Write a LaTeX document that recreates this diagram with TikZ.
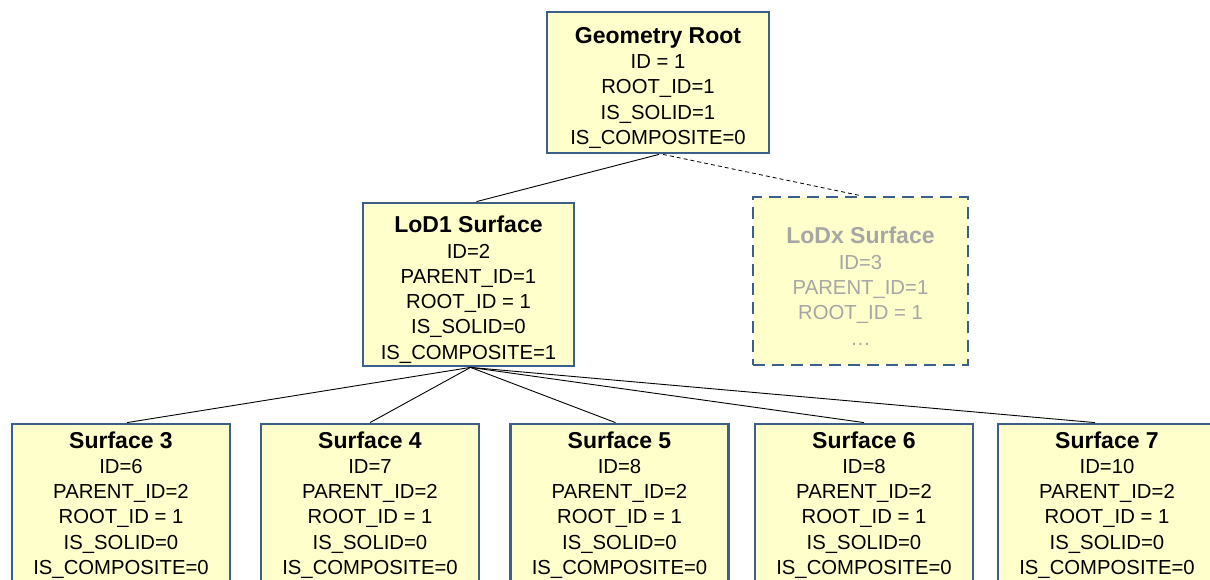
\documentclass[tikz,border=0pt]{standalone}
\usepackage{fontspec}
\setmainfont{Liberation Sans}
\definecolor{boxfill}{RGB}{255,255,204}
\definecolor{boxline}{RGB}{58,95,139}
\definecolor{greytxt}{RGB}{166,166,166}
\newcommand{\ttl}[2][27pt]{{\fontsize{23}{26}\selectfont\bfseries\rule{0pt}{#1}#2}}
\tikzset{
  box/.style={draw=boxline, line width=2.8pt, fill=boxfill, inner sep=0pt, align=center,
    font=\fontsize{20.3}{25.3}\selectfont},
  dbox/.style={box, dash pattern=on 12pt off 7pt, text=greytxt},
  edge/.style={draw=black, line width=0.9pt},
  dedge/.style={draw=black, line width=0.8pt, dash pattern=on 4pt off 3pt}
}
\begin{document}
\begin{tikzpicture}[x=1pt,y=-1pt]
\useasboundingbox (0,0) rectangle (1210,580);
\node[box, minimum width=222pt, minimum height=141pt] (root) at (658,82.5)
  {\ttl{Geometry Root}\\ID = 1\\ROOT\_ID=1\\IS\_SOLID=1\\IS\_COMPOSITE=0};
\node[box, minimum width=211pt, minimum height=163pt] (lod1) at (468.5,284.5)
  {\ttl{LoD1 Surface}\\ID=2\\PARENT\_ID=1\\ROOT\_ID = 1\\IS\_SOLID=0\\IS\_COMPOSITE=1};
\node[dbox, minimum width=215pt, minimum height=168pt] (lodx) at (860.5,281)
  {\ttl{LoDx Surface}\\ID=3\\PARENT\_ID=1\\ROOT\_ID = 1\\…};
\node[box, minimum width=218pt, minimum height=162pt] (s3) at (121,505)
  {\ttl[0pt]{Surface 3}\\ID=6\\PARENT\_ID=2\\ROOT\_ID = 1\\IS\_SOLID=0\\IS\_COMPOSITE=0};
\node[box, minimum width=218pt, minimum height=162pt] (s4) at (370,505)
  {\ttl[0pt]{Surface 4}\\ID=7\\PARENT\_ID=2\\ROOT\_ID = 1\\IS\_SOLID=0\\IS\_COMPOSITE=0};
\node[box, minimum width=218pt, minimum height=162pt] (s5) at (619.5,505)
  {\ttl[0pt]{Surface 5}\\ID=8\\PARENT\_ID=2\\ROOT\_ID = 1\\IS\_SOLID=0\\IS\_COMPOSITE=0};
\node[box, minimum width=218pt, minimum height=162pt] (s6) at (864,505)
  {\ttl[0pt]{Surface 6}\\ID=8\\PARENT\_ID=2\\ROOT\_ID = 1\\IS\_SOLID=0\\IS\_COMPOSITE=0};
\node[box, minimum width=218pt, minimum height=162pt] (s7) at (1107,505)
  {\ttl[0pt]{Surface 7}\\ID=10\\PARENT\_ID=2\\ROOT\_ID = 1\\IS\_SOLID=0\\IS\_COMPOSITE=0};
\path[edge] ([xshift=1pt]root.south) -- ([xshift=8pt]lod1.north);
\path[dedge] ([xshift=5pt]root.south) -- (lodx.north);
\path[edge] ([xshift=2pt]lod1.south) -- ([xshift=6pt]s3.north);
\path[edge] ([xshift=2pt]lod1.south) -- (s4.north);
\path[edge] ([xshift=2pt]lod1.south) -- ([xshift=-4pt]s5.north);
\path[edge] ([xshift=2pt]lod1.south) -- (s6.north);
\path[edge] ([xshift=2pt]lod1.south) -- ([xshift=-12pt]s7.north);
\end{tikzpicture}
\end{document}
